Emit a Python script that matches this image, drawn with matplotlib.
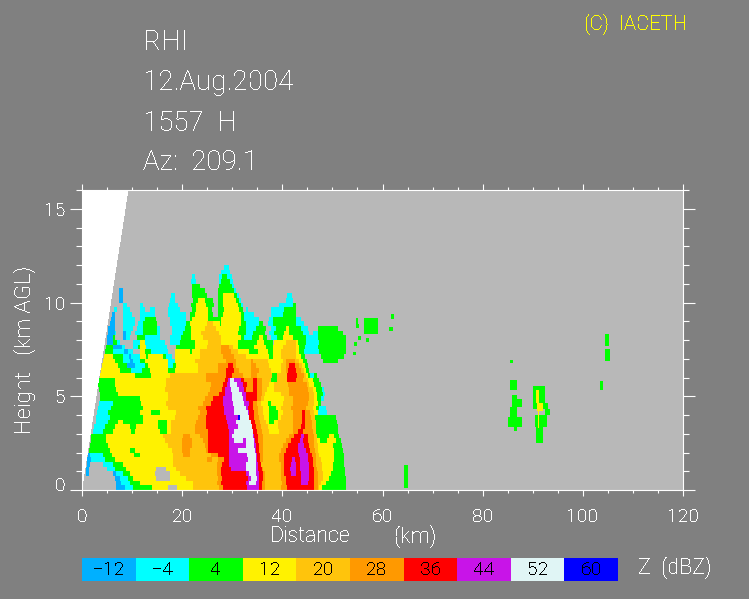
import matplotlib
matplotlib.use("Agg")
import matplotlib.pyplot as plt
import numpy as np
from matplotlib.colors import BoundaryNorm, ListedColormap
from matplotlib.transforms import ScaledTranslation

plt.rcParams['font.family'] = ['Roboto', 'Liberation Sans', 'DejaVu Sans']
plt.rcParams['font.weight'] = 'light'
plt.rcParams['text.antialiased'] = False

# dBZ classes, '.' is no echo
class_chars = "abcdefghij"
class_labels = ["-12", "-4", "4", "12", "20", "28", "36", "44", "52", "60"]
class_colors = ["#00b0ff", "#00ffff", "#00ff00", "#fff200", "#ffc40c",
                "#ff9900", "#ff0000", "#c814e8", "#e0f5f5", "#0000ff"]

# one string per height band of 0.25 km, from the ground up: class, then the km where it ends
rows = [
    ". 6.9 a 8.6 b 10.3 c 14 d 17.3 . 19 d 22.3 e 27.4 f 28.2 g 33 h 35.4 g 36 f 36.6 e 39.8 f 41 g 46.5 f 47.2 e 47.5 d 48 c 52.9",
    ". 6.9 a 7.9 b 9.6 c 11.6 d 22.3 e 27 f 27.8 g 32.8 h 33.5 i 34.9 h 35.5 g 36 f 36.6 e 40 f 40.8 g 43.8 h 45.2 g 46.5 f 47.2 e 47.8 d 48.8 c 52.9",
    ". 6.6 a 7.6 b 9.3 c 10.3 d 14.9 . 17.6 d 20.9 e 27.3 f 28 g 33.2 h 33.8 i 35 h 35.5 g 36.2 f 36.6 e 39.8 f 40.8 g 43.8 h 45.5 g 46.5 f 47.3 e 48.2 d 49.5 c 52.8",
    ". 0.9 a 1.4 . 6.3 a 6.9 b 8.3 c 9.6 d 14.6 . 17.6 d 19.6 e 27 f 27.9 g 32.8 h 33.5 i 34.8 h 35.5 g 36.2 f 36.6 e 39.8 f 40.5 g 41.8 h 42.8 g 43.8 h 45.5 g 46.4 f 47.2 e 48.2 d 49.8 c 52.7",
    ". 0.9 a 1.5 . 5 b 6.6 c 8.9 d 14.9 . 16.9 d 18.9 e 27 f 27.9 g 29.8 h 32.8 i 34.8 h 35.3 g 36 f 36.2 e 39.8 f 40.5 g 41.6 h 42.8 g 43.6 h 45.5 g 46.4 f 47.1 e 48 d 50.2 c 52.7",
    ". 1.1 a 1.6 . 4.3 b 6.3 c 8.3 d 18.3 e 27 f 28 g 29.5 h 32.8 i 34.8 h 35.2 g 35.9 e 39.8 f 40.5 g 41.8 h 42.8 g 43.6 h 45.4 g 46.2 f 46.9 e 48 d 50.2 c 52.4",
    ". 1.1 a 1.8 b 4.6 c 6.6 d 18.3 e 25 f 26 e 27.2 f 28.5 g 29.5 h 33.2 i 34.8 h 35 g 35.7 f 36.2 e 39.5 f 40.4 g 42 h 42.6 g 43.6 h 45.3 g 46.2 f 46.8 e 47.8 d 50.5 c 52.4",
    ". 1.3 a 1.7 b 4.3 c 6 d 10.5 c 11.6 d 18.3 e 20.2 f 21.6 e 25.8 f 27.2 g 29.5 h 33 i 34.8 h 35 g 35.7 f 36.2 e 39.5 f 40.5 g 43.5 h 45.2 g 46 f 46.8 e 47.5 d 50.5 c 52.4",
    ". 1.4 c 5.6 d 9.6 c 10.6 d 18 e 20 f 21.6 e 24.8 f 25.3 g 29.5 h 31.2 i 34.6 h 34.9 g 35.5 f 36.2 e 39.8 f 40.8 g 43.2 h 44.8 g 45.7 f 46.6 e 47.3 d 50.5 c 52.2",
    ". 1.6 c 5.3 d 17.3 e 20 f 22 e 24.6 f 25.3 g 29.5 h 32.8 i 34.5 h 34.8 g 35.5 f 36.2 e 40.2 f 41.2 g 43.2 h 44.5 g 45.5 f 46.5 e 47.2 d 50.2 c 52",
    ". 1.8 c 4.9 d 16.6 e 20 f 22 e 24.3 f 25.3 g 29.5 h 30.5 i 32.2 h 32.8 i 34.4 h 34.7 g 35.3 f 36.2 e 40.8 f 41.8 g 43.7 h 44.2 g 45.3 f 46.5 e 47 d 47.6 c 49 d 50.8 c 51.8",
    ". 1.9 c 4.9 d 16.3 e 20.3 f 21.6 e 23.6 f 25.3 g 29.5 h 30 i 34.2 h 34.5 g 35.2 f 36.2 e 41.5 f 42.5 g 43.8 h 44.4 g 45.2 f 46.4 e 47 c 49.5 d 50.5 c 51.5",
    ". 2.2 b 4.2 c 6.2 d 9.9 c 10.6 d 15.6 c 17 d 17.9 e 22.6 f 25.3 g 29.4 h 30.4 i 34.2 g 35 f 36 e 37.5 d 39.5 e 42.2 f 43.2 g 44.2 f 46.2 e 46.9 c 51.2",
    ". 2.4 b 4.6 c 6.6 d 9.6 c 10.9 d 15.3 c 17 d 17.9 e 22.6 f 24.9 g 29.2 h 31.2 i 34 g 34.8 f 35.8 e 37.2 d 39.2 e 42.2 f 43.8 g 44.6 f 46 e 46.9 c 51.2",
    ". 2.8 b 5.2 c 7.2 d 8.3 c 12.3 d 15.3 c 17 d 17.9 e 22.9 f 24.9 g 29 h 30.8 i 33.8 g 34.6 f 35.7 e 36.9 d 37.5 c 38.5 d 39.2 e 42.2 f 44 g 44.6 f 46 e 46.9 c 51",
    ". 2.9 b 5.6 c 12.3 d 18.6 e 23.3 f 24.9 g 28.8 h 31.2 j 31.6 i 33.5 g 34.5 f 35.5 e 36.5 d 37.5 c 39.3 d 39.8 e 42.2 f 44 g 44.6 f 45.8 e 46.7 c 50.8",
    ". 3 b 5.3 c 11.6 d 13.9 c 15.6 d 18.9 e 23.6 f 25 g 28.5 h 30.5 i 33.2 h 33.5 g 34.4 f 35.3 e 36.2 d 37.5 c 39.2 d 40.2 e 42.2 f 44 g 44.6 f 45.7 e 46.5 d 47.2 b 49",
    ". 3.2 b 5.9 c 12.3 d 17.3 e 23.3 f 24.9 g 28.5 h 30.5 i 32.8 h 33.3 g 34.2 f 35.2 e 36.2 d 37.5 c 38.8 d 39.8 e 41.8 f 44.8 e 46.2 d 46.9 c 47.5 b 48.8",
    ". 3.4 b 6.3 c 11.9 d 16.9 e 24.3 f 25.9 g 28.3 h 30.2 i 32.5 h 33.5 g 34.2 f 35 e 35.8 d 37.2 c 37.8 d 40.2 e 42.2 f 45.3 e 46.5 d 47.2 c 47.8",
    ". 3.6 c 11.6 d 17.3 e 24.6 f 26.3 g 28.2 h 30 i 32.2 h 32.8 g 35 f 35.8 e 36.5 d 40.5 e 42.2 f 45.5 e 46.5 d 47 c 47.8 b 48.5",
    ". 3.6 c 7.3 d 17.3 e 25.3 f 27.4 g 28.6 h 30 i 32 h 32.8 g 35 f 36 e 36.6 d 39.8 e 41.5 f 45.5 e 46.4 d 47 c 48.2 b 48.7",
    ". 3.4 c 6.9 d 16.6 e 25.6 f 28 g 28.6 h 29.8 i 31.5 h 32.4 g 32.9 f 34.2 g 35 f 36 e 37 d 38.5 e 41.5 f 45.2 e 46.2 d 46.8 c 48 b 48.4",
    ". 3.3 c 6.6 d 16.9 e 25.9 f 28.3 g 29 h 29.7 i 31 h 32.2 g 33 f 34.2 g 35 f 36 e 37.5 d 38.5 e 41.2 f 45 e 45.5 d 46.5 c 47.8",
    ". 3.2 c 6.6 d 16.9 e 24.9 f 28.6 g 29.2 h 29.7 i 30.5 h 31.8 g 32.5 f 34.2 g 35 f 36 e 37.9 c 39 e 41 g 42.8 f 44.3 e 45.2 d 46.2 c 47.5",
    ". 3.6 d 10.7 c 13.9 d 17.6 e 24.9 f 28.8 g 30 f 32.2 e 33.8 f 35 e 38 c 39 e 41 g 43 f 44.5 e 44.8 d 45.2 c 45.7 b 46.5 c 47",
    ". 3.9 d 7.6 c 9.9 b 12 c 13.6 d 17.3 c 18.6 d 23.3 e 27.2 f 28.8 g 30.5 f 31.5 e 33.8 f 35.5 e 37.8 d 39.8 e 40.8 f 41.3 g 42.8 f 43.8 e 44.4 d 44.8 c 45.5",
    ". 4.1 d 7.3 c 9 a 10.6 b 12.6 c 13.3 d 17.3 b 18.3 c 18.9 d 23.3 e 27.2 f 29.2 g 30.2 f 30.8 e 33.8 f 34.8 e 37.5 d 39.8 e 40.8 f 41.5 g 42.6 f 43.5 e 44 d 44.6 c 45.2",
    ". 4.3 d 6.6 c 8.3 b 9.6 a 10.3 b 11.6 c 12.6 d 17.3 b 18.6 d 22.6 e 28.8 f 30.8 e 33.8 f 34.3 e 37.2 d 40.2 e 40.8 f 42.6 e 43.4 d 44.2 c 45 . 48.2 c 51.3",
    ". 4.4 d 6.3 c 8.3 b 9.5 a 9.8 b 11.6 d 12.9 c 13.3 d 16.3 c 16.9 b 18 . 18.6 d 23.6 e 28.2 f 30.5 e 32.9 d 37.5 c 38.2 d 39.8 e 42.8 d 43.8 c 44.7 . 47.9 c 52.5",
    ". 4.6 c 6.3 b 8.5 a 9.2 b 10.3 . 11.6 d 12.6 c 13.9 b 17.3 . 18.6 d 21.6 c 22 d 23.6 e 27.9 f 29.8 e 31.2 d 33.5 c 35.2 d 37.2 c 38.2 d 39.8 e 42.8 d 43.5 c 44.5 b 47.5 c 52.8",
    ". 4.9 c 6.3 a 8 b 8.6 . 10.3 b 11.3 c 11.6 d 12.9 b 17 . 18.9 c 22.6 d 25 e 27.9 f 29.5 e 30.2 d 31.2 c 34.5 d 36.8 c 38.2 d 40.2 e 42.8 d 43.5 c 44.6 b 47.2 c 52.8",
    ". 5 a 6.2 c 7 b 7.6 . 10.3 b 11.6 d 12.6 b 16.6 . 17.6 b 19.6 c 22.6 d 25.3 e 27.9 d 31.2 c 35 d 36.5 c 38.2 . 38.5 d 40.8 e 42.8 d 43.2 c 44.8 b 47.5 c 52.9",
    ". 5.1 a 6.3 c 6.6 . 8.3 a 8.9 b 9.6 . 11 c 12.6 b 15.6 . 17.6 b 19.9 c 21.9 d 24.3 e 27.8 d 31.8 c 32.5 b 34 c 35.5 d 36.2 c 37 . 37.8 b 39 c 40.2 d 42.2 c 44.8 b 47.2 c 52.8",
    ". 5.3 a 6.6 b 6.9 . 8.3 a 8.9 b 9.9 . 10.6 b 12.3 c 15 b 15.6 . 18 b 20.2 c 21.9 d 23.9 e 27.5 d 31.2 c 32.8 b 34.2 c 36.6 . 37.5 b 38.5 c 40.5 d 41.5 c 44.2 b 45.5 . 46.2 b 47.2 c 52.2",
    ". 5.3 a 6.6 . 8.3 b 10.2 . 11 b 12.3 c 15 b 15.6 . 18 b 20.6 c 21.9 d 24.6 e 26.9 d 31.5 c 32.8 b 34.8 c 36.8 . 37.8 b 38.8 c 40.8 d 41.5 c 43.8 b 45.2 . 47.2 c 51.2",
    ". 5.6 a 6.6 . 8.3 b 10.6 . 11.3 b 12.3 c 15 . 17.6 b 20.9 c 21.6 d 25 e 26.3 d 27.6 c 27.9 d 31.8 c 32.8 b 35.5 c 36.2 . 37.2 b 38.2 c 42.8 b 44.5",
    ". 5.8 a 6.6 . 8.2 b 10.6 . 11.6 b 12.6 c 14.9 . 17.6 b 20.9 . 21.6 c 22 d 25.3 c 27.8 d 31.8 c 32.5 b 35.5 . 37.5 b 38.2 c 42.8 b 43.8",
    ". 6 a 6.6 . 8.2 b 10 . 11.6 b 14.6 . 17.3 b 20.9 . 21.6 c 22.6 d 25.3 c 26.3 . 27.2 c 28.2 d 31.8 c 32.5 b 34.5 . 37.8 b 40.2 c 42.8",
    ". 6.5 b 7 . 8.2 b 9.6 . 11.6 b 12.6 . 13.6 b 14.6 . 17.3 b 19.6 . 22 c 22.9 d 25.3 c 26 . 27.2 c 28.5 d 31.5 c 32.2 . 32.8 b 33.2 . 37.8 b 40.5 c 42.8",
    ". 8.2 b 9 . 11.6 b 12.3 . 17.5 b 19.2 . 21.8 c 22.9 d 24.9 c 26.5 . 27.2 c 28.2 d 31.2 c 31.8 b 32.2 . 39.5 b 42.3 c 42.8",
    ". 7.5 a 8.2 . 17.6 b 18.6 . 22.2 c 23.3 d 24.6 c 26.3 . 27.2 c 28.2 d 30.8 c 31.5 b 31.8 . 40.8 b 42.2",
    ". 7.5 a 8.2 . 17.8 b 18.6 . 22 c 25 . 27.2 c 28.2 d 30.4 c 31 b 31.5 . 41 b 42",
    ". 7.5 a 8.2 . 22 c 24.6 . 27.2 c 30.5 b 30.9",
    ". 22 c 23.6 . 27.5 c 30 b 30.5",
    ". 21.8 b 22.8 . 27.5 b 27.9 c 29.7 b 30.2",
    ". 22 b 22.6 . 27.5 b 28 c 29 b 30",
    ". 27.8 b 29.7",
    ". 28.4 b 29.4",
]

# isolated echoes further out, yellow ones last so they sit on the green
echo_x0 = [64.3, 85.8, 86.8, 85.4, 85.1, 86.2, 85.5, 85.4, 90.1, 90.1, 92.4, 90.4, 90.7, 104.4, 104.5, 103.4,
           54.8, 54.8, 56.5, 54.5, 55.2, 56.8, 54.2, 61.6, 61.3, 90.7, 90.8, 91.0]
echo_x1 = [65.1, 86.8, 87.8, 86.8, 87.8, 86.9, 86.8, 86.1, 92.4, 93.0, 93.5, 92.8, 92.0, 105.3, 105.4, 104.0,
           55.3, 55.5, 59.2, 55.0, 55.8, 57.5, 54.8, 62.2, 62.0, 91.2, 92.0, 91.3]
echo_h0 = [0.1, 4.45, 4.45, 3.9, 3.4, 3.1, 5.3, 6.75, 4.6, 4.3, 4.0, 3.4, 2.5, 7.7, 6.9, 5.3,
           8.9, 8.6, 8.3, 7.7, 8.0, 7.9, 7.2, 9.1, 8.5, 4.6, 4.2, 3.3]
echo_h1 = [1.3, 5.07, 4.85, 4.45, 3.9, 3.4, 5.85, 6.95, 5.55, 4.6, 4.3, 4.0, 3.4, 8.3, 7.5, 5.8,
           9.2, 8.9, 9.2, 7.9, 8.2, 8.1, 7.4, 9.4, 8.7, 5.3, 4.6, 4.2]
echo_class = list("c" * 25) + ["d", "d", "d"]

row_step = 0.25
cone_slope = 0.58   # top elevation of the scan, x = slope * height

x_edges = np.arange(0, 120.01, 0.2)
y_edges = np.arange(0, 16.01, 0.0625)
xc = (x_edges[:-1] + x_edges[1:]) / 2
yc = (y_edges[:-1] + y_edges[1:]) / 2

field = np.zeros((len(yc), len(xc)), dtype=int)
for r, row in enumerate(rows):
    parts = row.split()
    in_row = (yc >= r * row_step) & (yc < (r + 1) * row_step)
    start = 0
    for ch, end in zip(parts[::2], parts[1::2]):
        end = float(end)
        if ch != ".":
            in_run = (xc >= start) & (xc < end)
            field[np.ix_(in_row, in_run)] = class_chars.index(ch) + 1
        start = end

for x0, x1, h0, h1, ch in zip(echo_x0, echo_x1, echo_h0, echo_h1, echo_class):
    field[np.ix_((yc >= h0) & (yc < h1), (xc >= x0) & (xc < x1))] = class_chars.index(ch) + 1

XX, YY = np.meshgrid(xc, yc)
field[XX < cone_slope * YY] = -1

cmap = ListedColormap(["#ffffff", "#b8b8b8"] + class_colors)
norm = BoundaryNorm(np.arange(-1.5, 11.5), cmap.N)

fig = plt.figure(figsize=(7.49, 5.99), dpi=100, facecolor="#808080")
W, H = 749.0, 599.0
ax = fig.add_axes([82 / W, 1 - 490 / H, 601 / W, 300 / H])
ax.pcolormesh(x_edges, y_edges, field, cmap=cmap, norm=norm, antialiased=False)
ax.set_xlim(0, 120)
ax.set_ylim(0, 16)

for s in ax.spines.values():
    s.set_color("white")
    s.set_linewidth(0.8)
    s.set_zorder(5)

ax.set_xticks(np.arange(0, 121, 20))
ax.set_xticks(np.arange(0, 121, 5), minor=True)
ax.set_yticks([0, 5, 10, 15])
ax.set_yticks(np.arange(0, 17, 1), minor=True)
ax.tick_params(axis="x", which="major", length=4.3, width=0.8, color="white",
               top=True, bottom=True, labelcolor="white", labelsize=14, pad=9)
ax.tick_params(axis="x", which="minor", length=2.2, width=0.8, color="white", top=True, bottom=True)
ax.tick_params(axis="y", which="major", length=8.6, width=0.8, color="white",
               left=True, right=True, labelcolor="white", labelsize=14, pad=3)
ax.tick_params(axis="y", which="minor", length=4.3, width=0.8, color="white", left=True, right=True)

# the zero sits a bit above its tick in the original
zero = ax.get_yticklabels()[0]
zero.set_transform(zero.get_transform() + ScaledTranslation(0, 6 / 100, fig.dpi_scale_trans))

fig.text(270 / W, 1 - 537 / H, "Distance", color="white", fontsize=15.5, ha="left", va="center")
fig.text(395 / W, 1 - 537 / H, "(km)", color="white", fontsize=15.5, ha="left", va="center")
fig.text(25 / W, 1 - 350 / H, "Height   (km AGL)", color="white", fontsize=16, rotation=90, ha="center", va="center")

# header
for txt, y in zip(["RHI", "12.Aug.2004", "1557  H", "Az:  209.1"], [42, 82, 123, 162]):
    fig.text(143 / W, 1 - y / H, txt, color="white", fontsize=20, ha="left", va="center")
fig.text(584 / W, 1 - 24 / H, "(C)  IACETH", color="#ffff00", fontsize=14.5, ha="left", va="center")

# colour key
cax = fig.add_axes([82 / W, 1 - 581 / H, 536 / W, 23 / H])
cax.pcolormesh(np.arange(11), [0, 1], np.arange(10).reshape(1, -1),
               cmap=ListedColormap(class_colors), antialiased=False)
cax.axis("off")
for i, lab in enumerate(class_labels):
    cax.text(i + 0.5, 0.47, lab.replace("-", "\u2212"), color="black", fontsize=14, ha="center", va="center")
fig.text(675 / W, 1 - 568 / H, "Z  (dBZ)", color="white", fontsize=15.5, ha="center", va="center")

fig.savefig("out.png", dpi=100, facecolor=fig.get_facecolor())
